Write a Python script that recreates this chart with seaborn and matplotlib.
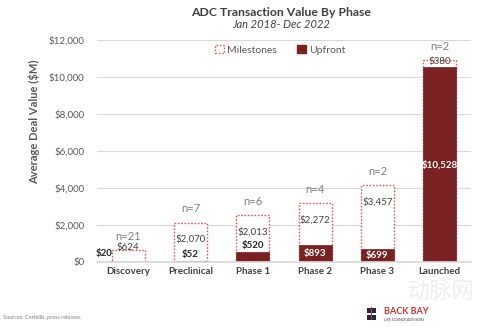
import matplotlib
matplotlib.use("Agg")
import matplotlib.pyplot as plt
import seaborn as sns
import pandas as pd
from matplotlib.patches import Patch, Rectangle

phases = ["Discovery", "Preclinical", "Phase 1", "Phase 2", "Phase 3", "Launched"]
upfront = [20, 52, 520, 893, 699, 10528]
milestones = [624, 2070, 2013, 2272, 3457, 380]
deal_counts = [21, 7, 6, 4, 2, 2]
y_ticks = [0, 2000, 4000, 6000, 8000, 10000, 12000]

sns.set_theme(style="white")
plt.rcParams["font.family"] = ["Lato", "DejaVu Sans"]

DARK_RED = "#7a2222"
DASH_RED = "#e05a5a"
TEXT = "#404040"
GREY = "#7f7f7f"

df = pd.DataFrame({"phase": phases, "upfront": upfront,
                   "milestones": milestones, "n": deal_counts})
df["total"] = df["upfront"] + df["milestones"]

fig = plt.figure(figsize=(4.82, 3.27), dpi=100)
ax = fig.add_axes([0.201, 0.199, 0.776, 0.679])

# stacked: total (dashed outline) behind, upfront (solid) in front
sns.barplot(data=df, x="phase", y="total", ax=ax, color="white",
            width=0.53, edgecolor=DASH_RED, linewidth=1.0, linestyle=(0, (1.2, 1.2)),
            saturation=1)
sns.barplot(data=df, x="phase", y="upfront", ax=ax, color=DARK_RED,
            width=0.53, edgecolor=DARK_RED, linewidth=0.5, saturation=1)

ax.set_ylim(0, 12000)
ax.set_xlim(-0.5, len(phases) - 0.5)
ax.set_yticks(y_ticks)
ax.set_yticklabels([f"${v:,}" for v in y_ticks], fontsize=7, color="#595959")
ax.yaxis.grid(True, color="#d9d9d9", linewidth=0.8)
ax.set_axisbelow(True)
for s in ax.spines.values():
    s.set_visible(False)
ax.spines["bottom"].set_visible(True)
ax.spines["bottom"].set_color("#d9d9d9")
ax.tick_params(axis="y", length=0, pad=9)
ax.tick_params(axis="x", length=0, pad=4)
ax.set_xticks(range(len(phases)))
ax.set_xticklabels(phases, fontsize=7, fontweight="bold", color="#404040")
ax.set_xlabel("")
ax.set_ylabel("Average Deal Value ($M)", fontsize=8, fontweight="bold", color="#595959")
ax.yaxis.set_label_coords(-0.152, 0.63)

for i, row in df.iterrows():
    up, ms, tot = row["upfront"], row["milestones"], row["total"]
    # deal count above each stack
    ax.annotate(f"n={row['n']}", (i, tot), xytext=(0, 10), textcoords="offset points",
                ha="center", va="center", fontsize=8, color=GREY)
    # milestone value
    if ms > 1000:
        ax.annotate(f"${ms:,}", (i, tot), xytext=(0, -12), textcoords="offset points",
                    ha="center", va="center", fontsize=7, color=TEXT)
    elif ms > up:
        ax.annotate(f"${ms:,}", (i, tot), xytext=(0, 1.5), textcoords="offset points",
                    ha="center", va="center", fontsize=7, color=TEXT)
    else:
        ax.annotate(f"${ms:,}", (i, tot), xytext=(0, -1), textcoords="offset points",
                    ha="center", va="center", fontsize=7, color=TEXT)
    # upfront value
    if up >= 600:
        ax.text(i, up / 2, f"${up:,}", ha="center", va="center",
                fontsize=7, color="white", fontweight="bold")
    elif up >= 40:
        ax.annotate(f"${up:,}", (i, up), xytext=(0, 5), textcoords="offset points",
                    ha="center", va="center", fontsize=7, color="#262626", fontweight="bold")
    else:
        ax.annotate(f"${up:,}", (i - 0.25, up), xytext=(-6, 6), textcoords="offset points",
                    ha="center", va="center", fontsize=7, color="#262626", fontweight="bold",
                    arrowprops=dict(arrowstyle="-", color="#a0a0a0", lw=0.6,
                                    shrinkA=3, shrinkB=0))

handles = [Patch(facecolor="white", edgecolor=DASH_RED, linestyle=(0, (1.2, 1.2)),
                 linewidth=1.0, label="Milestones"),
           Patch(facecolor=DARK_RED, edgecolor=DARK_RED, label="Upfront")]
ax.legend(handles=handles, loc="center", bbox_to_anchor=(0.49, 0.955), ncol=2,
          frameon=False, fontsize=7.5, handlelength=0.8, handleheight=0.8,
          handletextpad=0.3, columnspacing=2.0, labelcolor="#595959")

fig.text(0.583, 0.962, "ADC Transaction Value By Phase", ha="center", va="center",
         fontsize=8.8, fontweight="bold", color=TEXT)
fig.text(0.583, 0.925, "Jan 2018- Dec 2022", ha="center", va="center",
         fontsize=8, style="italic", color=TEXT)
fig.text(0.007, 0.028, "Sources: Cortellis, press releases", ha="left", va="center",
         fontsize=4, color=GREY)

# faint watermark and advisor mark in the lower right corner
fig.text(0.915, 0.105, "动脉网", ha="center", va="center", fontsize=16,
         color="#eeeeee", family=["Noto Sans CJK SC", "DejaVu Sans"])
fig.add_artist(Rectangle((0.762, 0.043), 0.018, 0.016, transform=fig.transFigure,
                         facecolor="#1f2a44", edgecolor="none"))
fig.add_artist(Rectangle((0.762, 0.022), 0.018, 0.016, transform=fig.transFigure,
                         facecolor="#1f2a44", edgecolor="none"))
fig.add_artist(Rectangle((0.770, 0.020), 0.002, 0.042, transform=fig.transFigure,
                         facecolor="#d03030", edgecolor="none"))
fig.text(0.797, 0.047, "BACK BAY", ha="left", va="center", fontsize=6.5,
         fontweight="bold", color="#d03030")
fig.text(0.797, 0.022, "LIFE SCIENCE ADVISORS", ha="left", va="center", fontsize=2.5,
         color="#404040")

fig.savefig("out.png", dpi=100)
